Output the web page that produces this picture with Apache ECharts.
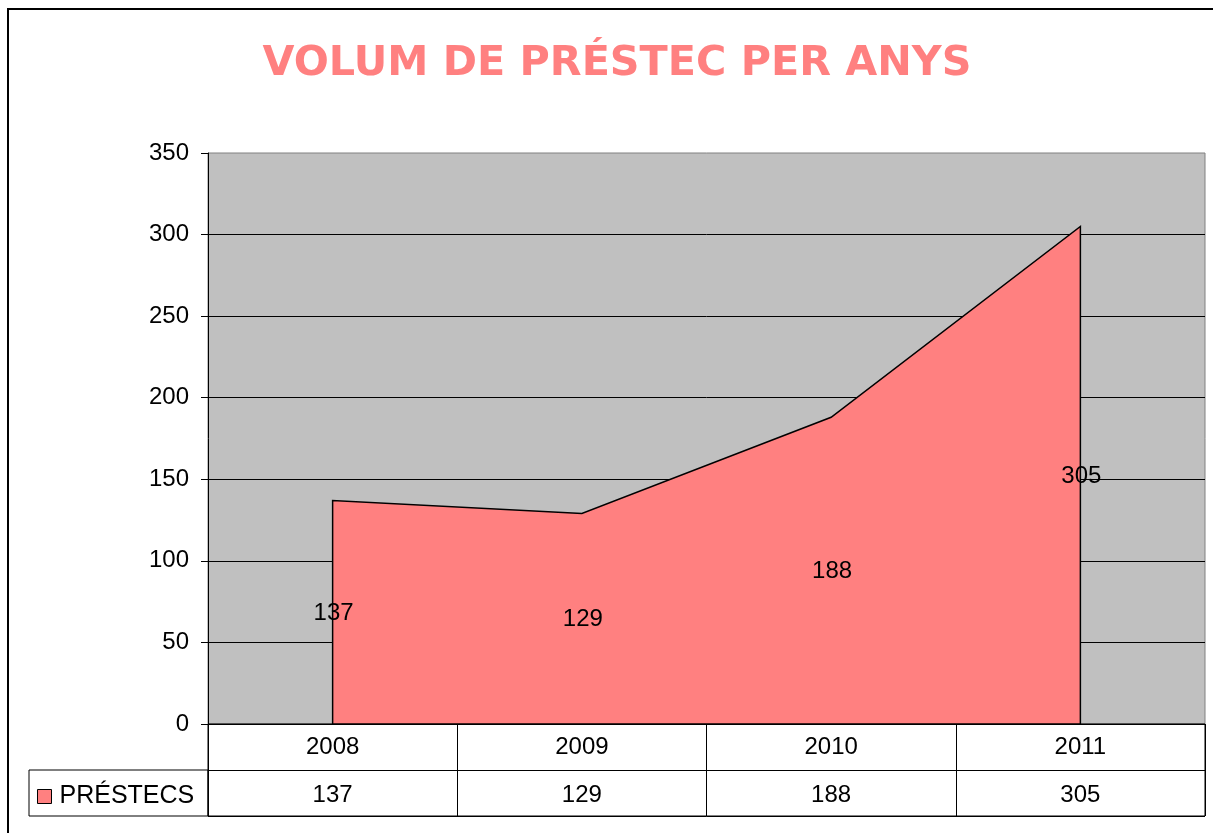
<!DOCTYPE html>
<html>
<head>
<meta charset="utf-8">
<title>Volum de préstec per anys</title>
<script src="https://cdn.jsdelivr.net/npm/echarts@6/dist/echarts.min.js"></script>
<style>
	html, body { margin: 0; padding: 0; background: #fff; }
	#chart { width: 1213px; height: 833px; }
</style>
</head>
<body>
<div id="chart"></div>
<script>
// data
var years = ['2008', '2009', '2010', '2011'];
var prestecs = [137, 129, 188, 305];
var seriesName = 'PRÉSTECS';
var yTicks = { min: 0, max: 350, step: 50 };

var txtFont = '24px "Liberation Sans", Arial, sans-serif';
var pink = '#ff8080';

var chart = echarts.init(document.getElementById('chart'));

var option = {
	backgroundColor: '#fff',
	animation: false,
	title: {
		text: 'VOLUM DE PRÉSTEC PER ANYS',
		left: 612,
		top: 39,
		textAlign: 'center',
		textStyle: {
			color: pink,
			fontFamily: 'DejaVu Sans',
			fontWeight: 'bold',
			fontSize: 41.3,
		},
	},
	legend: {
		left: 37,
		top: 784,
		padding: 0,
		selectedMode: false,
		itemWidth: 14,
		itemHeight: 14,
		itemGap: 6,
		textStyle: { fontFamily: 'Liberation Sans', fontSize: 25, color: '#000', padding: [0, 0, 0, 3] },
		data: [{ name: seriesName, icon: 'rect', itemStyle: { color: pink, borderColor: '#000', borderWidth: 1 } }],
	},
	grid: [
		{ left: 208, top: 153, right: 8, bottom: 109, show: true, backgroundColor: '#c0c0c0', borderColor: '#808080', borderWidth: 1 },
		{ left: 208, top: 724, right: 8, height: 92, show: true, backgroundColor: 'transparent', borderColor: '#000', borderWidth: 1 },
	],
	xAxis: [
		{
			type: 'category',
			gridIndex: 0,
			data: years,
			boundaryGap: true,
			axisLine: { show: true, lineStyle: { color: '#000', width: 1 } },
			axisTick: { show: false },
			axisLabel: { show: false },
			splitLine: { show: false },
		},
		{
			type: 'category',
			gridIndex: 1,
			data: years,
			boundaryGap: true,
			axisLine: { show: false },
			axisTick: { show: false },
			axisLabel: { show: false },
			splitLine: { show: true, interval: 0, lineStyle: { color: '#000', width: 1 } },
		},
	],
	yAxis: [
		{
			type: 'value',
			gridIndex: 0,
			min: yTicks.min,
			max: yTicks.max,
			interval: yTicks.step,
			axisLine: { show: true, lineStyle: { color: '#000', width: 1 } },
			axisTick: { show: true, inside: false, length: 7, lineStyle: { color: '#000' } },
			axisLabel: { color: '#000', fontFamily: 'Liberation Sans', fontSize: 24, margin: 19 },
			splitLine: { show: true, showMaxLine: false, lineStyle: { color: '#000', width: 1 } },
		},
		{
			type: 'category',
			gridIndex: 1,
			data: ['values', 'years'],
			boundaryGap: true,
			axisLine: { show: false },
			axisTick: { show: false },
			axisLabel: { show: false },
			splitLine: { show: true, interval: 0, lineStyle: { color: '#000', width: 1 } },
		},
	],
	graphic: [
		// outer frame
		{ type: 'rect', shape: { x: 8, y: 9, width: 1300, height: 900 }, style: { fill: 'none', stroke: '#000', lineWidth: 2 }, silent: true },
		// legend cell of the data table
		{ type: 'rect', shape: { x: 29, y: 770, width: 179, height: 46 }, style: { fill: 'none', stroke: '#000', lineWidth: 1 }, silent: true },
	],
	series: [
		{
			name: seriesName,
			type: 'custom',
			xAxisIndex: 0,
			yAxisIndex: 0,
			itemStyle: { color: pink },
			data: prestecs.map(function(v, i) { return [i, v]; }),
			renderItem: function(params, api) {
				if (params.dataIndex !== 0) return null;
				var pts = [api.coord([0, 0])];
				prestecs.forEach(function(v, i) {
					pts.push(api.coord([i, v]));
				});
				pts.push(api.coord([prestecs.length - 1, 0]));
				return {
					type: 'polygon',
					shape: { points: pts },
					style: { fill: pink, stroke: '#000', lineWidth: 1.5 },
				};
			},
			z: 2,
		},
		{
			// value labels, placed halfway up the area
			type: 'custom',
			xAxisIndex: 0,
			yAxisIndex: 0,
			data: prestecs.map(function(v, i) { return [i, v]; }),
			renderItem: function(params, api) {
				var v = api.value(1);
				var p = api.coord([api.value(0), v / 2]);
				return {
					type: 'text',
					style: { text: String(v), x: p[0] + 1, y: p[1] + 1, align: 'center', verticalAlign: 'middle', fill: '#000', font: txtFont },
				};
			},
			z: 3,
		},
		{
			// data table cells
			type: 'custom',
			xAxisIndex: 1,
			yAxisIndex: 1,
			data: years.map(function(y, i) { return [i, prestecs[i]]; }),
			renderItem: function(params, api) {
				var i = api.value(0);
				var pY = api.coord([i, 1]);
				var pV = api.coord([i, 0]);
				return {
					type: 'group',
					children: [
						{ type: 'text', style: { text: years[i], x: pY[0], y: pY[1], align: 'center', verticalAlign: 'middle', fill: '#000', font: txtFont } },
						{ type: 'text', style: { text: String(prestecs[i]), x: pV[0], y: pV[1] + 2, align: 'center', verticalAlign: 'middle', fill: '#000', font: txtFont } },
					],
				};
			},
			z: 3,
		},
	],
};

chart.setOption(option);
</script>
</body>
</html>
